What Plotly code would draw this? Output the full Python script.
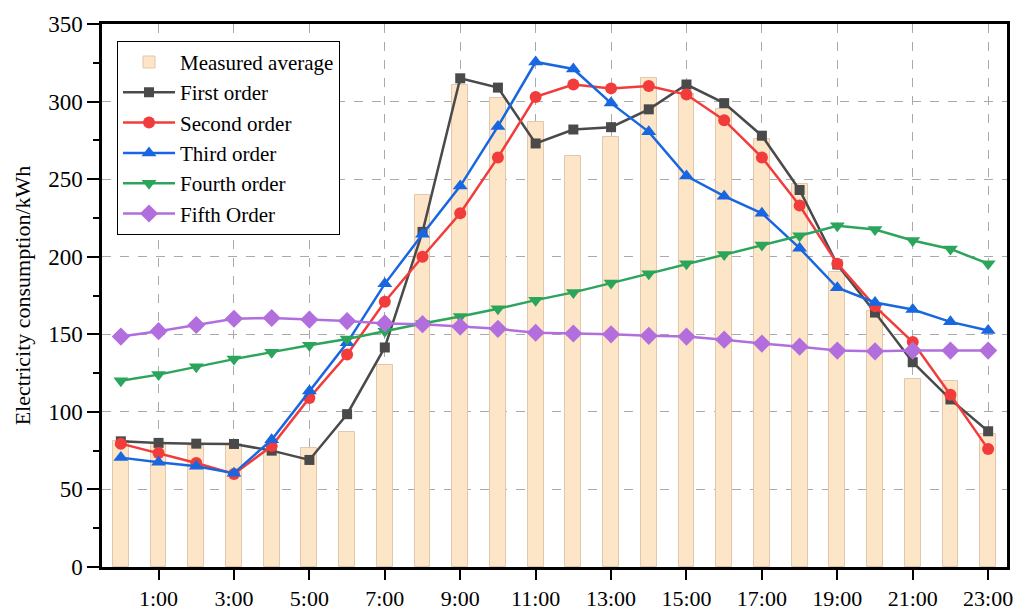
import plotly.graph_objects as go

hours = list(range(24))
tick_vals = [1, 3, 5, 7, 9, 11, 13, 15, 17, 19, 21, 23]
tick_text = ["1:00", "3:00", "5:00", "7:00", "9:00", "11:00", "13:00", "15:00",
             "17:00", "19:00", "21:00", "23:00"]

measured = [81, 79, 78, 79, 74, 77, 87, 130, 240, 311, 302, 287, 265, 277, 315, 305,
            295, 276, 247, 190, 165, 121, 120, 86]
first_order = [81, 80, 79.5, 79.3, 75, 69, 98.5, 141.5, 216, 315, 309, 273, 282, 283.5,
               295, 311, 299, 278, 243, 195, 164, 132, 108, 87.5]
second_order = [79.5, 73.5, 67, 60, 78, 109, 137, 171, 200, 228, 264, 303, 311, 308.5,
                310, 304.5, 288, 264, 233, 195.5, 168, 145, 111, 76]
third_order = [70.5, 67.5, 65, 60.5, 82, 113.5, 144.5, 182.5, 214.5, 245.5, 284, 325.5,
               321, 299, 280.5, 252, 239, 228, 205.5, 180, 170.5, 166, 158, 152.5]
fourth_order = [120, 124, 129, 134, 138.5, 143, 147, 152, 157, 161.5, 166.5, 172, 177,
                183, 189, 195.5, 201.5, 207.5, 213.5, 220, 217.5, 210.5, 205, 195.5]
fifth_order = [148.5, 152, 156, 160, 160.5, 159.5, 158.5, 157, 156.5, 155, 153.5, 151,
               150.5, 150, 149, 148.5, 146.5, 144, 142, 139.5, 139, 139.5, 139.5, 139.5]

FONT = "Liberation Serif, Times New Roman, serif"

fig = go.Figure()
fig.add_trace(go.Bar(
    x=hours, y=measured, name="Measured average", width=0.42,
    marker=dict(color="rgb(253,229,200)", line=dict(color="rgb(225,200,172)", width=1)),
))

series = [
    ("First order", first_order, "rgb(74,74,74)", "square", 10),
    ("Second order", second_order, "rgb(242,60,60)", "circle", 12),
    ("Third order", third_order, "rgb(24,102,224)", "triangle-up", 13),
    ("Fourth order", fourth_order, "rgb(44,165,92)", "triangle-down", 13),
    ("Fifth Order", fifth_order, "rgb(178,110,220)", "diamond", 14),
]
for name, vals, col, sym, sz in series:
    fig.add_trace(go.Scatter(
        x=hours, y=vals, name=name, mode="lines+markers",
        line=dict(color=col, width=2.5),
        marker=dict(symbol=sym, size=sz, color=col),
    ))

fig.update_layout(
    width=1022, height=612,
    margin=dict(l=102, r=15, t=24, b=45),
    plot_bgcolor="white", paper_bgcolor="white",
    font=dict(family=FONT, color="black", size=22),
    bargap=0,
    showlegend=True,
    legend=dict(
        x=0.0166, y=0.969, xanchor="left", yanchor="top",
        bgcolor="white", bordercolor="black", borderwidth=1,
        font=dict(family=FONT, size=21, color="black"),
        tracegroupgap=0, itemwidth=52,
    ),
)
fig.update_xaxes(
    range=[-0.5, 23.5], automargin=False,
    tickmode="array", tickvals=tick_vals, ticktext=tick_text,
    ticks="outside", ticklen=10, tickwidth=2, tickcolor="black",
    showline=True, linecolor="black", linewidth=2.5, mirror=True,
    showgrid=True, gridcolor="rgb(170,170,170)", griddash="dash", gridwidth=1,
    tickfont=dict(family=FONT, size=22),
    zeroline=False,
)
fig.update_yaxes(
    range=[0, 350], dtick=50, tick0=0, automargin=False,
    ticks="outside", ticklen=12, tickwidth=2, tickcolor="black",
    showline=True, linecolor="black", linewidth=2.5, mirror=True,
    showgrid=True, gridcolor="rgb(170,170,170)", griddash="dash", gridwidth=1,
    minor=dict(dtick=25, ticks="outside", ticklen=6, tickwidth=2, tickcolor="black", showgrid=False),
    tickfont=dict(family=FONT, size=23),
    title=dict(text="Electricity consumption/kWh", font=dict(family=FONT, size=22), standoff=12),
    zeroline=False,
)

fig.write_html("out.html")
